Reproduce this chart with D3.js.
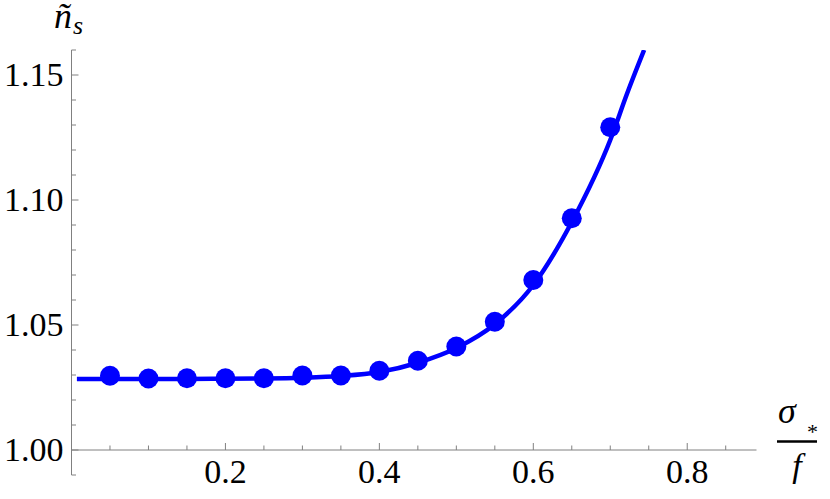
<!DOCTYPE html>
<html><head><meta charset="utf-8"><script src="https://cdn.jsdelivr.net/npm/d3@7"></script></head>
<body style="margin:0">
<script>
// data points (sigma_*/f , n_s)
var pointX = [0.05, 0.10, 0.15, 0.20, 0.25, 0.30, 0.35, 0.40, 0.45, 0.50, 0.55, 0.60, 0.65, 0.70];
var pointY = [1.0297, 1.0286, 1.0287, 1.0287, 1.0287, 1.0298, 1.0298, 1.0317, 1.0357, 1.0414, 1.0513, 1.0680, 1.0927, 1.1291];

// curve
var curveX = [0.007, 0.05, 0.10, 0.15, 0.20, 0.25, 0.30, 0.35, 0.40, 0.45, 0.50, 0.55, 0.60, 0.65, 0.70, 0.722, 0.744];
var curveY = [1.0284, 1.0284, 1.0284, 1.0284, 1.0285, 1.0286, 1.0289, 1.0296, 1.0312, 1.0349, 1.0408, 1.0503, 1.0660, 1.0912, 1.1240, 1.1427, 1.1600];

var xTicks = [0.2, 0.4, 0.6, 0.8];
var yTicks = [1.00, 1.05, 1.10, 1.15];

var serif = "Liberation Serif";

var svg = d3.select("body").append("svg").attr("width", 830).attr("height", 499);

var x = d3.scaleLinear().domain([0, 0.89]).range([71.5, 756.5]);
var y = d3.scaleLinear().domain([0.99, 1.16]).range([475, 50]);

var axisColor = "#808080";

// y axis line + ticks
svg.append("line")
    .attr("x1", x(0)).attr("x2", x(0))
    .attr("y1", y(0.99)).attr("y2", y(1.16))
    .attr("stroke", axisColor).attr("stroke-width", 1);

var yMinor = d3.range(99, 117).map(function(d) { return d / 100; });
svg.selectAll(".ytick")
    .data(yMinor)
    .enter().append("line")
      .attr("class", "ytick")
      .attr("x1", x(0))
      .attr("x2", function(d) { return x(0) + (Math.abs(d * 20 - Math.round(d * 20)) < 1e-6 ? 7 : 4.5); })
      .attr("y1", function(d) { return y(d); })
      .attr("y2", function(d) { return y(d); })
      .attr("stroke", axisColor).attr("stroke-width", 1);

// x axis line + ticks
svg.append("line")
    .attr("x1", x(0)).attr("x2", x(0.89))
    .attr("y1", y(1)).attr("y2", y(1))
    .attr("stroke", axisColor).attr("stroke-width", 1);

var xMinor = d3.range(1, 18).map(function(d) { return d * 0.05; });
svg.selectAll(".xtick")
    .data(xMinor)
    .enter().append("line")
      .attr("class", "xtick")
      .attr("x1", function(d) { return x(d); })
      .attr("x2", function(d) { return x(d); })
      .attr("y1", y(1))
      .attr("y2", function(d, i) { return y(1) - (i % 4 == 3 ? 7 : 4.5); })
      .attr("stroke", axisColor).attr("stroke-width", 1);

// tick labels
yTicks.forEach(function(d) {
  svg.append("text")
      .attr("x", x(0) - 8)
      .attr("y", y(d) + 11)
      .attr("font-size", 34)
      .attr("font-family", serif)
      .attr("text-anchor", "end")
      .text(d.toFixed(2));
});

xTicks.forEach(function(d) {
  svg.append("text")
      .attr("x", x(d))
      .attr("y", 483)
      .attr("font-size", 34)
      .attr("font-family", serif)
      .attr("text-anchor", "middle")
      .text(d.toFixed(1));
});

// clip to plot range
svg.append("clipPath").attr("id", "clip")
  .append("rect")
    .attr("x", x(0)).attr("y", y(1.16))
    .attr("width", x(0.89) - x(0)).attr("height", y(0.99) - y(1.16));

var line = d3.line()
    .x(function(d) { return x(d[0]); })
    .y(function(d) { return y(d[1]); })
    .curve(d3.curveMonotoneX);

svg.append("path")
    .datum(d3.zip(curveX, curveY))
    .attr("clip-path", "url(#clip)")
    .attr("d", line)
    .attr("fill", "none")
    .attr("stroke", "#0000ff")
    .attr("stroke-width", 4.5);

svg.selectAll(".dot")
    .data(d3.zip(pointX, pointY))
    .enter().append("circle")
      .attr("class", "dot")
      .attr("cx", function(d) { return x(d[0]); })
      .attr("cy", function(d) { return y(d[1]); })
      .attr("r", 10)
      .attr("fill", "#0000ff");

// axis labels
svg.append("text")
    .attr("x", 54).attr("y", 28)
    .attr("font-size", 36)
    .attr("font-family", serif)
    .attr("font-style", "italic")
    .text("ñ");
svg.append("text")
    .attr("x", 73).attr("y", 34)
    .attr("font-size", 26)
    .attr("font-family", serif)
    .attr("font-style", "italic")
    .text("s");

svg.append("text")
    .attr("x", 778).attr("y", 423)
    .attr("font-size", 36)
    .attr("font-family", serif)
    .attr("font-style", "italic")
    .text("σ");
svg.append("text")
    .attr("x", 807).attr("y", 439)
    .attr("font-size", 22)
    .attr("font-family", serif)
    .text("*");
svg.append("line")
    .attr("x1", 777).attr("x2", 817)
    .attr("y1", 441.5).attr("y2", 441.5)
    .attr("stroke", "#000").attr("stroke-width", 2.5);
svg.append("text")
    .attr("x", 797).attr("y", 477)
    .attr("font-size", 34)
    .attr("font-family", serif)
    .attr("font-style", "italic")
    .attr("text-anchor", "middle")
    .text("f");
</script></body></html>
